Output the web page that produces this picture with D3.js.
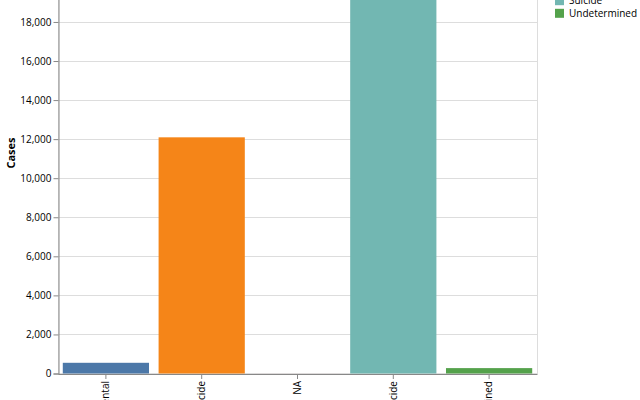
<!DOCTYPE html>
<html><head><meta charset="utf-8">
<script src="https://cdn.jsdelivr.net/npm/d3@7"></script>
<style>html,body{margin:0;padding:0;background:#fff;overflow:hidden}svg{display:block;font-family:"Open Sans",sans-serif}</style>
</head><body><svg id="c" width="640" height="400"></svg>
<script>
const categories = ["Accidental", "Homicide", "NA", "Suicide", "Undetermined"];
const cases = [548, 12093, 1, 20666, 276];
const colors = ["#4c78a8", "#f58518", "#e45756", "#72b7b2", "#54a24b"];
const yTicks = [0, 2000, 4000, 6000, 8000, 10000, 12000, 14000, 16000, 18000, 20000, 22000];

const svg = d3.select("#c");
const left = 58, right = 537, zeroY = 373.5, topY = 373.5 - 22000 * 0.01953;
const x = d3.scaleBand().domain(categories).range([left, right]).paddingInner(0.1).paddingOuter(0.05);
const y = d3.scaleLinear().domain([0, 22000]).range([zeroY, topY]);
const color = d3.scaleOrdinal().domain(categories).range(colors);

// grid
svg.append("g").selectAll("line").data(yTicks).join("line")
  .attr("x1", left).attr("x2", right)
  .attr("y1", d => Math.round(y(d)) + 0.5).attr("y2", d => Math.round(y(d)) + 0.5)
  .attr("stroke", "#ddd").attr("stroke-width", 1);
// view border
svg.append("rect").attr("x", left + 0.5).attr("y", topY).attr("width", right - left).attr("height", zeroY - topY)
  .attr("fill", "none").attr("stroke", "#ddd");

// bars
svg.append("g").selectAll("rect").data(categories).join("rect")
  .attr("x", d => x(d)).attr("width", x.bandwidth())
  .attr("y", (d, i) => y(cases[i])).attr("height", (d, i) => zeroY - y(cases[i]))
  .attr("fill", d => color(d));

// y axis
const ya = svg.append("g").attr("transform", `translate(${left + 0.5},0)`)
  .call(d3.axisLeft(y).tickValues(yTicks).tickFormat(d3.format(",")).tickSize(5).tickPadding(2));
ya.select(".domain").attr("stroke", "#888");
ya.selectAll(".tick line").attr("stroke", "#888");
ya.selectAll(".tick text").attr("font-size", 10).attr("fill", "#000").attr("font-family", "Open Sans, sans-serif");

// x axis
const xa = svg.append("g").attr("transform", `translate(0,${zeroY + 0.5})`)
  .call(d3.axisBottom(x).tickSize(5).tickSizeOuter(0).tickPadding(2));
xa.select(".domain").attr("stroke", "#888");
xa.selectAll(".tick line").attr("stroke", "#888");
xa.selectAll(".tick text").attr("font-size", 10).attr("fill", "#000").attr("font-family", "Open Sans, sans-serif")
  .attr("transform", "rotate(-90)").attr("text-anchor", "end").attr("dy", "0.32em").attr("x", -7).attr("y", 0);

// y title
svg.append("text").attr("transform", `translate(15,153) rotate(-90)`).attr("text-anchor", "middle")
  .attr("font-size", 11).attr("font-weight", "bold").text("Cases");

// legend
const lg = svg.append("g").attr("transform", "translate(555,0)");
const items = lg.selectAll("g").data(categories).join("g")
  .attr("transform", (d, i) => `translate(0,${13.3 - (4 - i) * 12.6})`);
items.append("rect").attr("x", 0).attr("y", -4.5).attr("width", 9).attr("height", 9).attr("fill", d => color(d));
items.append("text").attr("x", 14).attr("dy", "0.35em").attr("font-size", 10).text(d => d);
lg.append("text").attr("x", 0).attr("y", 13.3 - 6 * 12.6).attr("font-size", 11).attr("font-weight", "bold").text("Manner");
</script></body></html>
